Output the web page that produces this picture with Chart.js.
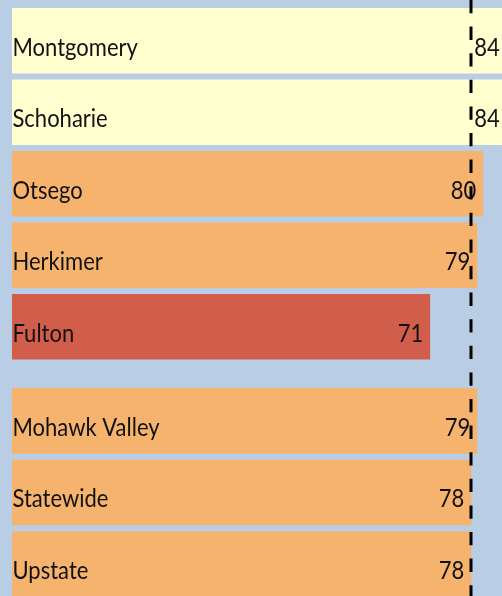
<!DOCTYPE html>
<html lang="en">
<head>
  <meta charset="UTF-8" />
  <title>Scores by county</title>
  <script src="https://cdn.jsdelivr.net/npm/chart.js"></script>
  <style>
    html, body { margin: 0; padding: 0; }
    body { width: 502px; height: 596px; overflow: hidden; background: #b9cde5; }
    .box { position: relative; width: 502px; }
    #topBox { height: 374px; }
    #bottomBox { height: 226px; }
  </style>
</head>
<body>

  <div class="box" id="topBox"><canvas id="countyChart" width="502" height="374"></canvas></div>
  <div class="box" id="bottomBox"><canvas id="regionChart" width="502" height="226"></canvas></div>

  <script>
    // counties
    const countyNames = ['Montgomery', 'Schoharie', 'Otsego', 'Herkimer', 'Fulton'];
    const countyScores = [84, 84, 80, 79, 71];
    // region / state
    const regionNames = ['Mohawk Valley', 'Statewide', 'Upstate'];
    const regionScores = [79, 78, 78];
    // dashed reference line
    const statewideScore = 78;

    const countyColors = ['#ffffd0', '#ffffd0', '#f6b36e', '#f6b36e', '#d15e4b'];
    const regionColors = ['#f6b36e', '#f6b36e', '#f6b36e'];

    const FONT = '"Lato", "Open Sans", sans-serif';
    const STRETCH = 1.12; // text in the original is a bit taller than wide

    function drawText(ctx, txt, x, y, align) {
      ctx.save();
      ctx.translate(x, y);
      ctx.scale(1, STRETCH);
      ctx.textAlign = align;
      ctx.textBaseline = 'middle';
      ctx.fillText(txt, 0, 0);
      ctx.restore();
    }

    const barLabels = {
      id: 'barLabels',
      afterDatasetsDraw(chart) {
        const ctx = chart.ctx;
        const area = chart.chartArea;
        const meta = chart.getDatasetMeta(0);
        const names = chart.data.labels;
        const vals = chart.data.datasets[0].data;
        ctx.save();
        ctx.fillStyle = '#111';
        ctx.font = '22px ' + FONT;
        meta.data.forEach((bar, i) => {
          const y = bar.y + 7;
          drawText(ctx, names[i], area.left + 0.5, y, 'left');
          // bars running past the edge keep their value just inside it
          drawText(ctx, String(vals[i]), Math.min(bar.x - 7, area.right - 2), y, 'right');
        });
        ctx.restore();
      }
    };

    const refLine = {
      id: 'refLine',
      afterDraw(chart) {
        const ctx = chart.ctx;
        const x = Math.round(chart.scales.x.getPixelForValue(statewideScore));
        ctx.save();
        ctx.strokeStyle = '#000';
        ctx.lineWidth = 3;
        ctx.setLineDash([13.3, 13.3]);
        ctx.lineDashOffset = chart.canvas.parentNode.offsetTop % 26.6;
        ctx.beginPath();
        ctx.moveTo(x, 0);
        ctx.lineTo(x, chart.height);
        ctx.stroke();
        ctx.restore();
      }
    };

    function makeChart(id, names, scores, colors, pad) {
      return new Chart(document.getElementById(id), {
        type: 'bar',
        data: {
          labels: names,
          datasets: [{
            data: scores,
            backgroundColor: colors,
            borderWidth: 0,
            barPercentage: 0.916,
            categoryPercentage: 1
          }]
        },
        options: {
          indexAxis: 'y',
          responsive: false,
          animation: false,
          layout: { padding: pad },
          scales: {
            x: { display: false, min: 0, max: 83.2 },
            y: { display: false }
          },
          plugins: {
            legend: { display: false },
            tooltip: { enabled: false }
          }
        },
        plugins: [barLabels, refLine]
      });
    }

    makeChart('countyChart', countyNames, countyScores, countyColors,
      { left: 12, right: 0, top: 5, bottom: 11.5 });
    makeChart('regionChart', regionNames, regionScores, regionColors,
      { left: 12, right: 0, top: 11, bottom: 0 });
  </script>

</body>
</html>
